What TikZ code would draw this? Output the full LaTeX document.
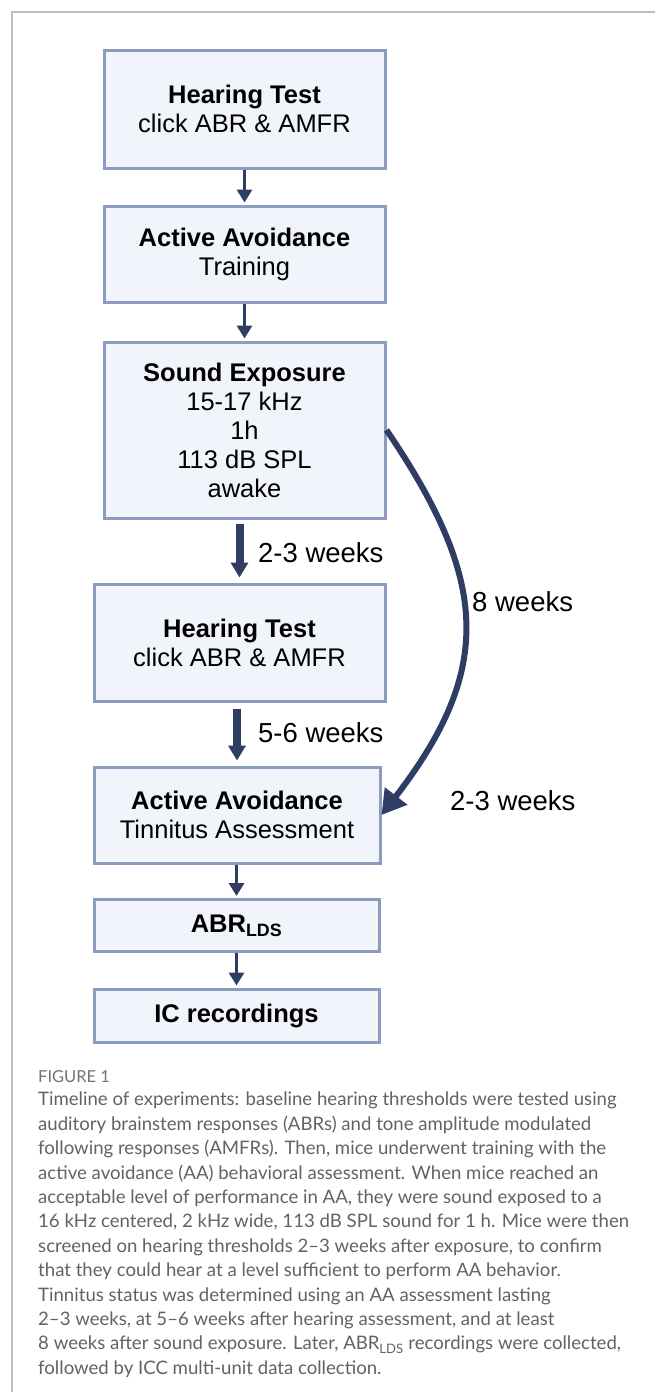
\documentclass[tikz,border=0pt]{standalone}
\usepackage{fontspec}
\setmainfont{Liberation Sans}
\newfontfamily\capfont{Lato}
\usetikzlibrary{arrows.meta}

\definecolor{boxfill}{HTML}{F1F4FA}
\definecolor{boxline}{HTML}{8C9CC0}
\definecolor{navy}{HTML}{2F3C63}
\definecolor{framegray}{HTML}{BDBDBD}
\definecolor{capgray}{HTML}{626262}

\tikzset{
	stage/.style={draw=boxline, fill=boxfill, line width=3pt, align=center, inner sep=0pt,
		font=\fontsize{25.5}{29}\selectfont},
	thinarrow/.style={navy, line width=3.5pt, -{Triangle[width=15pt,length=13pt]}},
	widearrow/.style={navy, line width=8pt, -{Triangle[width=17pt,length=15pt]}},
	weeks/.style={font=\fontsize{27.5}{30}\selectfont, inner sep=0pt, anchor=west}
}

\begin{document}
\begin{tikzpicture}[x=1pt,y=-1pt]
	\useasboundingbox (0,0) rectangle (655,1392);
	%FRAME
	\draw[framegray, line width=1.5pt] (12,1392)--(12,12)--(655,12);
	
	%BOXES
	\node[stage, minimum width=281pt, minimum height=118pt] (hear1) at (244.5,109) {\textbf{Hearing Test}\\click ABR \& AMFR};
	\node[stage, minimum width=281pt, minimum height=96pt] (train) at (244.5,254) {\textbf{Active Avoidance}\\Training};
	\node[stage, minimum width=281pt, minimum height=176pt] (expo) at (244.5,430) {\textbf{Sound Exposure}\\15-17 kHz\\1h\\113 dB SPL\\awake};
	\node[stage, minimum width=291pt, minimum height=117pt] (hear2) at (239.5,642.5) {\textbf{Hearing Test}\\click ABR \& AMFR};
	\node[stage, minimum width=286pt, minimum height=96pt] (tinn) at (237,815) {\textbf{Active Avoidance}\\Tinnitus Assessment};
	\node[stage, minimum width=285pt, minimum height=52pt] (abr) at (236.5,925.5) {\textbf{ABR\textsubscript{LDS}}};
	\node[stage, minimum width=285pt, minimum height=53pt] (ic) at (236.5,1015.5) {\textbf{IC recordings}};
	
	%ARROWS
	\draw[thinarrow, shorten >=2pt] (hear1)--(train);
	\draw[thinarrow, shorten >=2pt] (train)--(expo);
	\draw[widearrow, shorten <=4pt, shorten >=5pt] (expo.south -| hear2)--(hear2.north);
	\draw[widearrow, shorten <=6pt, shorten >=5pt] (hear2.south -| tinn)--(tinn.north);
	\draw[thinarrow, shorten >=2pt] (tinn.south -| abr)--(abr.north);
	\draw[thinarrow, shorten >=2pt] (abr)--(ic);
	\draw[navy, line width=6pt, -{Triangle[width=27pt,length=24pt]}] (expo.east) .. controls (489,581) and (494,669) .. (tinn.east);
	
	%LABELS
	\node[weeks] (wkA) at (258,553) {2-3 weeks};
	\node[weeks] (wkB) at (258,733) {5-6 weeks};
	\node[weeks] (wkC) at (472,602) {8 weeks};
	\node[weeks] (wkD) at (450,801) {2-3 weeks};
	
	%CAPTION
	\node[anchor=west, inner sep=0pt, text=capgray!90, font=\capfont\fontsize{16.5}{18}\selectfont] (fig) at (38,1077) {FIGURE 1};
	\node[anchor=north west, inner sep=0pt, align=left, text=capgray, font=\capfont\fontsize{18.6}{24.4}\selectfont] (cap) at (38,1092) {Timeline of experiments: baseline hearing thresholds were tested using\\
		auditory brainstem responses (ABRs) and tone amplitude modulated\\
		following responses (AMFRs). Then, mice underwent training with the\\
		active avoidance (AA) behavioral assessment. When mice reached an\\
		acceptable level of performance in AA, they were sound exposed to a\\
		16 kHz centered, 2 kHz wide, 113 dB SPL sound for 1 h. Mice were then\\
		screened on hearing thresholds 2–3 weeks after exposure, to confirm\\
		that they could hear at a level sufficient to perform AA behavior.\\
		Tinnitus status was determined using an AA assessment lasting\\
		2–3 weeks, at 5–6 weeks after hearing assessment, and at least\\
		8 weeks after sound exposure. Later, ABR\textsubscript{LDS} recordings were collected,\\
		followed by ICC multi-unit data collection.};
\end{tikzpicture}
\end{document}
